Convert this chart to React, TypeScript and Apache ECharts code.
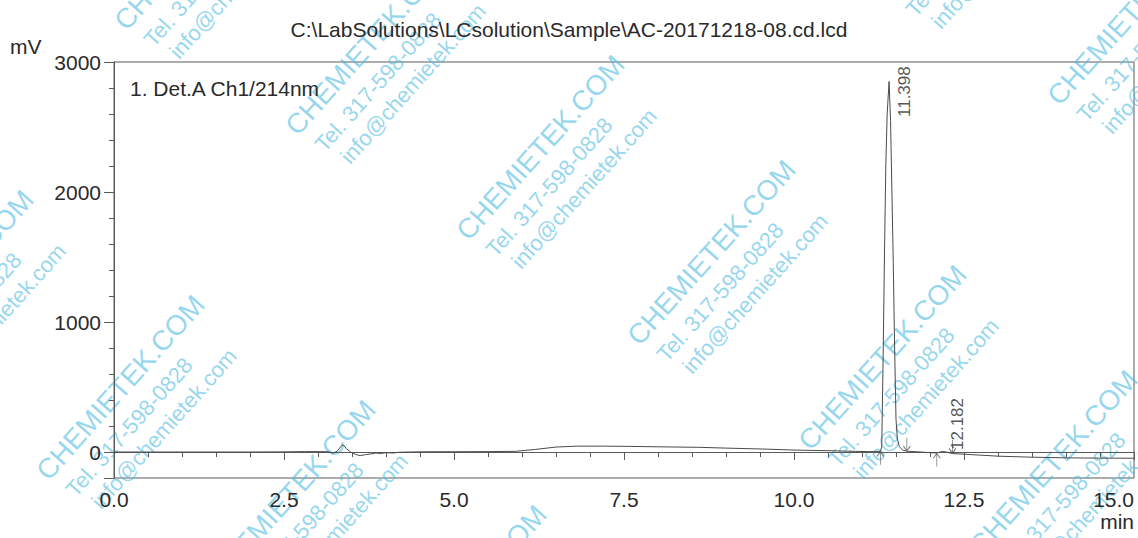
import React, { useEffect, useRef } from "react";
import * as echarts from "echarts";

// ---- data ----
const titleText = "C:\\LabSolutions\\LCsolution\\Sample\\AC-20171218-08.cd.lcd";
const channelText = "1. Det.A Ch1/214nm";
const yUnit = "mV";
const xUnit = "min";

const times: number[] = [
  0, 0.5, 1.0, 1.5, 2.0, 2.5, 2.8, 3.0, 3.15, 3.22, 3.28, 3.34, 3.37, 3.42, 3.48,
  3.55, 3.62, 3.7, 3.78, 3.85, 3.92, 4.0, 4.1, 4.2, 4.35, 4.6, 5.0, 5.5, 5.9, 6.2,
  6.5, 6.8, 7.2, 7.6, 8.0, 8.6, 9.0, 9.6, 10.0, 10.5, 10.9, 11.1, 11.25, 11.27,
  11.29, 11.31, 11.33, 11.35, 11.37, 11.398, 11.42, 11.44, 11.46, 11.48, 11.5,
  11.52, 11.55, 11.6, 11.66, 11.8, 12.0, 12.1, 12.15, 12.182, 12.24, 12.33, 12.6,
  13.0, 13.5, 14.0, 14.5, 15.0,
];
const signal: number[] = [
  0, 0, 0, 0, 0, 1, 3, 3, 2, -8, 5, 45, 55, 25, 0,
  -18, -28, -20, -15, -8, -12, -5, -8, -2, 0, 2, 2, 3, 5, 20,
  38, 45, 45, 43, 40, 36, 30, 22, 15, 10, 5, 3, 3, 5,
  40, 700, 1500, 2200, 2600, 2850, 2550, 2000, 1450, 800, 250,
  100, 40, 15, 6, 2, -5, -8, 0, 4, 0, -12, -20,
  -32, -40, -45, -47, -48,
];

const peakTimes: number[] = [11.398, 12.182];
const peakHeights: number[] = [2850, 4];

const startMarkTimes: number[] = [11.27, 12.1];
const startMarkValues: number[] = [5, -8];
const endMarkTimes: number[] = [11.66, 12.33];
const endMarkValues: number[] = [6, -12];

// scanned-in watermark stamp
const stampLines: string[] = ["CHEMIETEK.COM", "Tel. 317-598-0828", "info@chemietek.com"];

const FONT = "'Liberation Sans', Arial, Helvetica, sans-serif";
const INK = "#2a2a2a";
const AXIS = "#5a5a5a";
const STAMP = "rgba(80,188,228,0.6)";

function buildStamps(): any[] {
  const out: any[] = [];
  const ax = 472, ay = 245; // one stamp anchor
  const b = [171, 105];
  const d = [420, -240];
  for (let i = -4; i <= 5; i++) {
    for (let j = -3; j <= 3; j++) {
      const x = ax + i * b[0] + j * d[0];
      const y = ay + i * b[1] + j * d[1];
      if (x < -260 || x > 1150 || y < -20 || y > 760) continue;
      out.push({
        type: "group",
        x,
        y,
        rotation: 0.84,
        silent: true,
        z: -5,
        children: [
          { type: "text", x: 0, y: -28, style: { text: stampLines[0], font: `28px ${FONT}`, fill: STAMP } },
          { type: "text", x: 6, y: 8, style: { text: stampLines[1], font: `22px ${FONT}`, fill: STAMP } },
          { type: "text", x: 14, y: 35, style: { text: stampLines[2], font: `22px ${FONT}`, fill: STAMP } },
        ],
      });
    }
  }
  return out;
}

export default function App() {
  const ref = useRef<HTMLDivElement>(null);
  useEffect(() => {
    if (!ref.current) return;
    const chart = echarts.init(ref.current, undefined, { renderer: "svg" });
    const lineData = times.map((t, i) => [t, signal[i]]);
    const labelOffsets = [
      [16, 36],
      [16, -1],
    ];
    const peakData = peakTimes.map((t, i) => ({
      value: [t, peakHeights[i]],
      label: { position: labelOffsets[i] },
    }));
    const option: any = {
      animation: false,
      backgroundColor: "#ffffff",
      title: {
        text: titleText,
        left: "center",
        top: 14,
        textStyle: { fontFamily: FONT, fontSize: 21, fontWeight: "normal", color: INK },
      },
      grid: {
        left: 114,
        right: 4,
        top: 62,
        bottom: 60,
        show: true,
        borderColor: AXIS,
        borderWidth: 1,
        backgroundColor: "transparent",
      },
      xAxis: {
        type: "value",
        min: 0,
        max: 15,
        interval: 2.5,
        axisLine: { show: true, lineStyle: { color: AXIS, width: 1 } },
        axisTick: { show: true, length: 8, lineStyle: { color: AXIS } },
        minorTick: { show: true, splitNumber: 5, length: 5, lineStyle: { color: AXIS } },
        splitLine: { show: false },
        axisLabel: {
          formatter: (v: number) => v.toFixed(1),
          fontFamily: FONT,
          fontSize: 21,
          color: INK,
          margin: 11,
          alignMaxLabel: "right",
        },
      },
      yAxis: [
        {
          type: "value",
          min: -200,
          max: 3000,
          interval: 200,
          axisLine: { show: true, lineStyle: { color: AXIS, width: 1 } },
          axisTick: { show: true, length: 5, lineStyle: { color: AXIS } },
          splitLine: { show: false },
          axisLabel: {
            formatter: (v: number) => (Math.abs(v % 1000) < 1e-6 ? String(v) : ""),
            fontFamily: FONT,
            fontSize: 21,
            color: INK,
            margin: 13,
            showMinLabel: false,
          },
        },
        {
          type: "value",
          min: -200,
          max: 3000,
          minInterval: 1000,
          maxInterval: 1000,
          position: "left",
          offset: 0,
          axisLine: { show: true, lineStyle: { color: AXIS, width: 1 } },
          axisTick: { show: true, length: 10, lineStyle: { color: AXIS } },
          splitLine: { show: false },
          axisLabel: { show: false },
        },
      ],
      graphic: [
        ...buildStamps(),
        {
          type: "text",
          left: 10,
          top: 36,
          style: { text: yUnit, font: `21px ${FONT}`, fill: INK },
        },
        {
          type: "text",
          right: 4,
          top: 511,
          style: { text: xUnit, font: `21px ${FONT}`, fill: INK },
        },
        {
          type: "text",
          left: 130,
          top: 78,
          style: { text: channelText, font: `21px ${FONT}`, fill: INK },
        },
      ],
      series: [
        {
          type: "line",
          data: lineData,
          showSymbol: false,
          symbol: "none",
          lineStyle: { color: "#4a4a4a", width: 1 },
          silent: true,
          z: 3,
        },
        {
          type: "scatter",
          data: startMarkTimes.map((t, i) => [t, startMarkValues[i]]),
          symbol: "path://M0,5 L4,0 L8,5 M4,0 L4,14",
          symbolSize: [7, 13],
          symbolOffset: [0, 7],
          itemStyle: { color: "transparent", borderColor: "#555", borderWidth: 1 },
          silent: true,
        },
        {
          type: "scatter",
          data: endMarkTimes.map((t, i) => [t, endMarkValues[i]]),
          symbol: "path://M0,9 L4,14 L8,9 M4,14 L4,0",
          symbolSize: [7, 13],
          symbolOffset: [0, -7],
          itemStyle: { color: "transparent", borderColor: "#555", borderWidth: 1 },
          silent: true,
        },
        {
          type: "scatter",
          data: peakData,
          symbolSize: 1,
          itemStyle: { color: "transparent" },
          silent: true,
          label: {
            show: true,
            rotate: 90,
            align: "left",
            verticalAlign: "middle",
            formatter: (p: any) => p.value[0].toFixed(3),
            fontFamily: FONT,
            fontSize: 17,
            color: INK,
          },
        },
      ],
    };
    chart.setOption(option);
    return () => chart.dispose();
  }, []);
  return (
    <div
      ref={ref}
      style={{ position: "fixed", left: 0, top: 0, width: 1138, height: 538, background: "#fff" }}
    />
  );
}
